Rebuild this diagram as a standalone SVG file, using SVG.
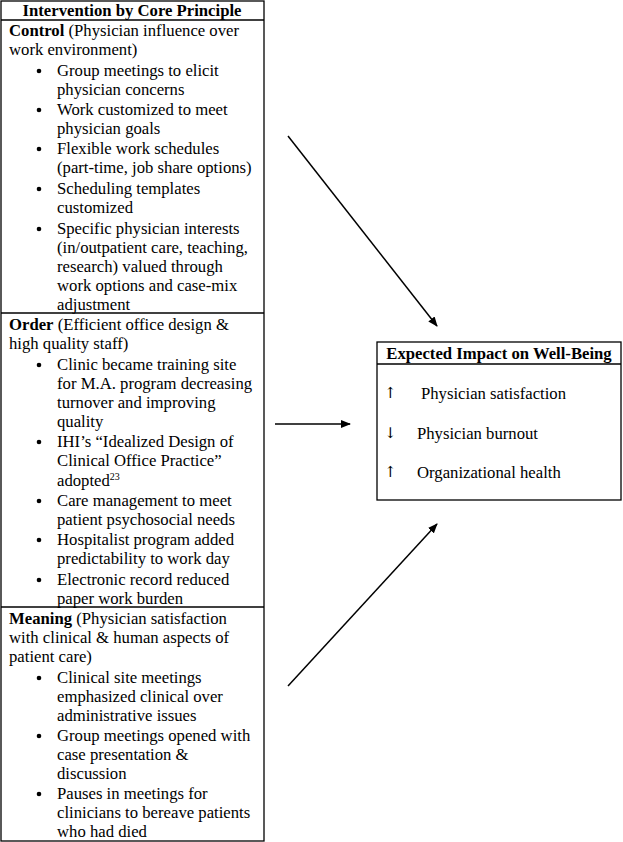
<svg xmlns="http://www.w3.org/2000/svg" width="623" height="842" viewBox="0 0 623 842">
<style>
text{font-family:"Liberation Serif","Times New Roman",serif;font-size:16.7px;fill:#000}
.b{font-weight:bold}
.ar{font-family:"DejaVu Serif","DejaVu Sans",serif;font-size:15px}
.box{fill:#fff;stroke:#000;stroke-width:1.3}
.sep{stroke:#000;stroke-width:1.3}
.conn{stroke:#000;stroke-width:1.5;fill:none}
.bul{fill:#000}
</style>
<defs>
<marker id="ah" markerWidth="10" markerHeight="8" refX="9" refY="4" orient="auto" markerUnits="userSpaceOnUse">
<path d="M0,0 L10,4 L0,8 z" fill="#000"/>
</marker>
</defs>
<rect width="623" height="842" fill="#fff"/>
<g id="intervention-table">
<rect class="box" x="1" y="1" width="263" height="840"/>
<line class="sep" x1="1" y1="20" x2="264" y2="20"/>
<line class="sep" x1="1" y1="313" x2="264" y2="313"/>
<line class="sep" x1="1" y1="607" x2="264" y2="607"/>
<text class="b" x="132" y="16" text-anchor="middle">Intervention by Core Principle</text>
</g>
<g id="control">
<text x="9" y="36"><tspan class="b">Control</tspan> (Physician influence over</text>
<text x="9" y="55">work environment)</text>
<circle class="bul" cx="39" cy="71" r="2.3"/><text x="57" y="76">Group meetings to elicit</text>
<text x="57" y="95">physician concerns</text>
<circle class="bul" cx="39" cy="110" r="2.3"/><text x="57" y="115">Work customized to meet</text>
<text x="57" y="134">physician goals</text>
<circle class="bul" cx="39" cy="149" r="2.3"/><text x="57" y="154">Flexible work schedules</text>
<text x="57" y="173">(part-time, job share options)</text>
<circle class="bul" cx="39" cy="189" r="2.3"/><text x="57" y="194">Scheduling templates</text>
<text x="57" y="213">customized</text>
<circle class="bul" cx="39" cy="229" r="2.3"/><text x="57" y="234">Specific physician interests</text>
<text x="57" y="253">(in/outpatient care, teaching,</text>
<text x="57" y="272">research) valued through</text>
<text x="57" y="291">work options and case-mix</text>
<text x="57" y="310">adjustment</text>
</g>
<g id="order">
<text x="9" y="330"><tspan class="b">Order</tspan> (Efficient office design &amp;</text>
<text x="9" y="349">high quality staff)</text>
<circle class="bul" cx="39" cy="365" r="2.3"/><text x="57" y="370">Clinic became training site</text>
<text x="57" y="389">for M.A. program decreasing</text>
<text x="57" y="408">turnover and improving</text>
<text x="57" y="427">quality</text>
<circle class="bul" cx="39" cy="442" r="2.3"/><text x="57" y="447">IHI’s “Idealized Design of</text>
<text x="57" y="466">Clinical Office Practice”</text>
<text x="57" y="486">adopted<tspan dy="-6" font-size="10px">23</tspan></text>
<circle class="bul" cx="39" cy="501" r="2.3"/><text x="57" y="506">Care management to meet</text>
<text x="57" y="525">patient psychosocial needs</text>
<circle class="bul" cx="39" cy="540" r="2.3"/><text x="57" y="545">Hospitalist program added</text>
<text x="57" y="564">predictability to work day</text>
<circle class="bul" cx="39" cy="580" r="2.3"/><text x="57" y="585">Electronic record reduced</text>
<text x="57" y="604">paper work burden</text>
</g>
<g id="meaning">
<text x="9" y="624"><tspan class="b">Meaning</tspan> (Physician satisfaction</text>
<text x="9" y="643">with clinical &amp; human aspects of</text>
<text x="9" y="662">patient care)</text>
<circle class="bul" cx="39" cy="678" r="2.3"/><text x="57" y="683">Clinical site meetings</text>
<text x="57" y="702">emphasized clinical over</text>
<text x="57" y="721">administrative issues</text>
<circle class="bul" cx="39" cy="736" r="2.3"/><text x="57" y="741">Group meetings opened with</text>
<text x="57" y="760">case presentation &amp;</text>
<text x="57" y="779">discussion</text>
<circle class="bul" cx="39" cy="794" r="2.3"/><text x="57" y="799">Pauses in meetings for</text>
<text x="57" y="818">clinicians to bereave patients</text>
<text x="57" y="837">who had died</text>
</g>
<g id="impact">
<rect class="box" x="377" y="342" width="244" height="158"/>
<line class="sep" x1="377" y1="364" x2="621" y2="364"/>
<text class="b" x="499" y="359" text-anchor="middle">Expected Impact on Well-Being</text>
<text class="ar" x="384" y="398">↑</text><text x="421" y="399">Physician satisfaction</text>
<text class="ar" x="384" y="438">↓</text><text x="417" y="439">Physician burnout</text>
<text class="ar" x="384" y="477">↑</text><text x="417" y="478">Organizational health</text>
</g>
<g id="connectors">
<line class="conn" x1="288" y1="136" x2="437" y2="326" marker-end="url(#ah)"/>
<line class="conn" x1="275" y1="424" x2="350" y2="424" marker-end="url(#ah)"/>
<line class="conn" x1="288" y1="686" x2="437" y2="524" marker-end="url(#ah)"/>
</g>
</svg>
